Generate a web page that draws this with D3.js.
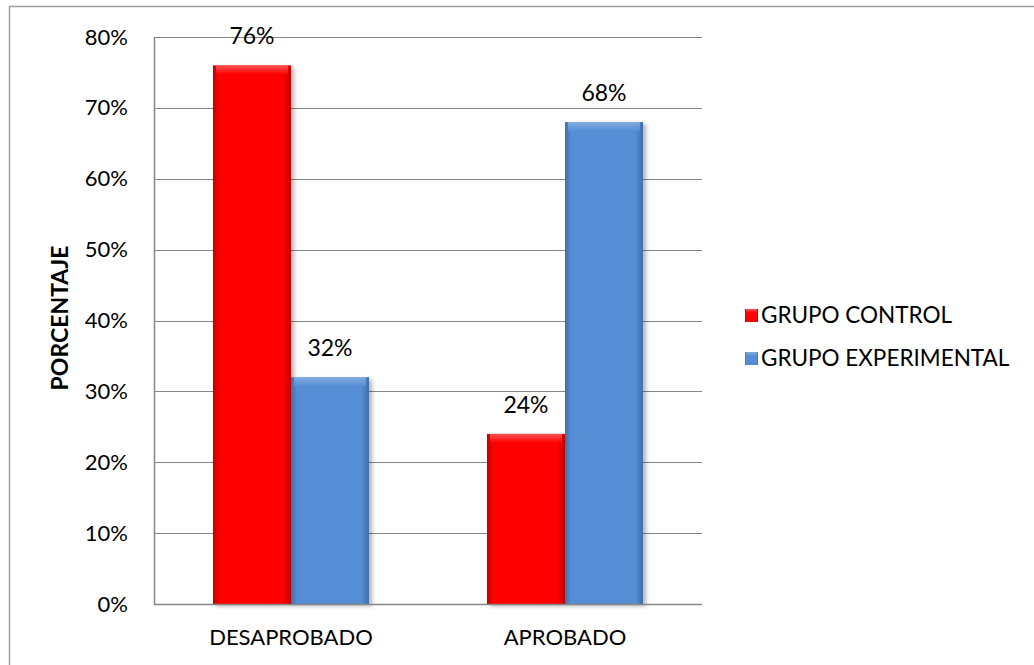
<!DOCTYPE html>
<html><head><meta charset="utf-8">
<script src="https://cdn.jsdelivr.net/npm/d3@7"></script>
<style>body{margin:0;background:#fff;} text{font-family:Lato,"Open Sans",sans-serif;}</style>
</head><body>
<svg id="c" width="1034" height="665"></svg>
<script>
const categories = ["DESAPROBADO", "APROBADO"];
const seriesNames = ["GRUPO CONTROL", "GRUPO EXPERIMENTAL"];
const grupoControl = [76, 24];
const grupoExperimental = [32, 68];
const yTicks = [0, 10, 20, 30, 40, 50, 60, 70, 80];
const seriesColors = ["#ff0000", "#558ed5"];
const seriesDark = ["#c00000", "#3e6fa8"];
const seriesLight = ["#ff6a6a", "#8fb4e3"];

const svg = d3.select("#c");
const defs = svg.append("defs");
const f = defs.append("filter").attr("id","sh").attr("x","-10%").attr("y","-10%").attr("width","130%").attr("height","130%");
f.append("feDropShadow").attr("dx",3).attr("dy",2).attr("stdDeviation",2).attr("flood-color","#000").attr("flood-opacity",0.3);
seriesColors.forEach((c,i)=>{
  const g = defs.append("linearGradient").attr("id","gh"+i).attr("x1","0").attr("x2","1").attr("y1","0").attr("y2","0");
  g.append("stop").attr("offset","0").attr("stop-color",seriesDark[i]);
  g.append("stop").attr("offset","0.08").attr("stop-color",c);
  g.append("stop").attr("offset","0.9").attr("stop-color",c);
  g.append("stop").attr("offset","1").attr("stop-color",seriesDark[i]);
  const gv = defs.append("linearGradient").attr("id","gv"+i).attr("x1","0").attr("x2","0").attr("y1","0").attr("y2","1");
  gv.append("stop").attr("offset","0").attr("stop-color",seriesLight[i]);
  gv.append("stop").attr("offset","1").attr("stop-color",c);
});

// outer border
svg.append("path").attr("d","M9.5,665 L9.5,6.5 L1034,6.5").attr("fill","none").attr("stroke","#a0a0a0").attr("stroke-width",1.5);

const L = 154, R = 702, T = 37, B = 604;
const y = d3.scaleLinear().domain([0,80]).range([B,T]);
const x0 = d3.scaleBand().domain(categories).range([L,R]).paddingInner(0).paddingOuter(0);
const x1 = d3.scaleBand().domain(seriesNames).range([0,x0.bandwidth()]).paddingInner(0).paddingOuter(0.756);

// gridlines
svg.append("g").selectAll("line").data(yTicks.filter(d=>d>0)).join("line")
  .attr("x1",L).attr("x2",R).attr("y1",d=>Math.round(y(d))+0.5).attr("y2",d=>Math.round(y(d))+0.5)
  .attr("stroke","#868686").attr("stroke-width",1.2);

// y axis labels
const ya = svg.append("g").attr("transform",`translate(${L},0)`)
  .call(d3.axisLeft(y).tickValues(yTicks).tickFormat(d=>d+"%").tickSize(0).tickPadding(26));
ya.select(".domain").remove();
ya.selectAll("text").attr("font-size",22).attr("fill","#000").style("font-family","Lato,'Open Sans',sans-serif");

const data = categories.map((c,i)=>({cat:c, vals:[grupoControl[i], grupoExperimental[i]]}));
const barG = svg.append("g");
data.forEach(d=>{
  d.vals.forEach((v,si)=>{
    const bx = x0(d.cat)+x1(seriesNames[si]);
    const bw = x1.bandwidth();
    const by = y(v);
    const g = barG.append("g");
    g.append("rect").attr("x",bx).attr("y",by).attr("width",bw).attr("height",B-by)
      .attr("fill",`url(#gh${si})`).attr("filter","url(#sh)");
    g.append("rect").attr("x",bx+3).attr("y",by).attr("width",bw-6).attr("height",9)
      .attr("fill",`url(#gv${si})`).attr("opacity",0.8);
  });
});
// labels
data.forEach(d=>{
  d.vals.forEach((v,si)=>{
    const bx = x0(d.cat)+x1(seriesNames[si]) + x1.bandwidth()/2;
    svg.append("text").attr("x",bx).attr("y",y(v)-21).attr("text-anchor","middle")
      .attr("font-size",23).attr("fill","#000").text(v+"%");
  });
});

// axes lines
svg.append("line").attr("x1",L+0.5).attr("x2",L+0.5).attr("y1",T).attr("y2",B).attr("stroke","#868686").attr("stroke-width",1.5);
svg.append("line").attr("x1",L).attr("x2",R).attr("y1",B+0.5).attr("y2",B+0.5).attr("stroke","#868686").attr("stroke-width",1.5);

// x axis labels
const xa = svg.append("g").attr("transform",`translate(0,${B})`)
  .call(d3.axisBottom(x0).tickSize(0).tickPadding(25));
xa.select(".domain").remove();
xa.selectAll("text").attr("font-size",22).attr("fill","#000").style("font-family","Lato,'Open Sans',sans-serif");

// y title
svg.append("text").attr("transform","translate(68,318) rotate(-90)").attr("text-anchor","middle")
  .attr("font-size",23).attr("font-weight","bold").text("PORCENTAJE");

// legend
const lg = svg.append("g");
seriesNames.forEach((s,i)=>{
  const ly = 315 + i*43;
  lg.append("rect").attr("x",745).attr("y",ly-6).attr("width",13).attr("height",13).attr("fill",`url(#gh${i})`);
  lg.append("rect").attr("x",746).attr("y",ly-6).attr("width",11).attr("height",4).attr("fill",`url(#gv${i})`).attr("opacity",0.8);
  lg.append("text").attr("x",761).attr("y",ly).attr("dy","0.35em").attr("font-size",22.5).text(s);
});
</script>
</body></html>
